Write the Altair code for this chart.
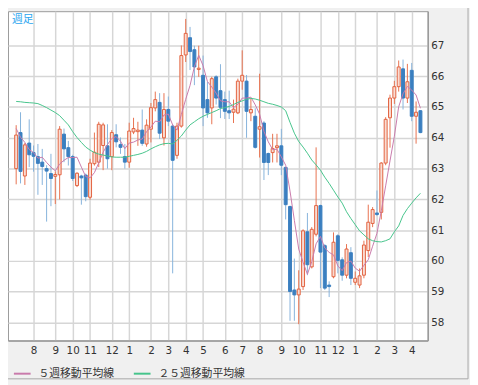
import altair as alt
import pandas as pd

# ---- weekly candles (index 0..93) ----
opens = [63.00, 64.17, 62.76, 63.83, 63.52, 63.39, 63.21, 63.00, 62.84, 62.75,
         62.80, 64.12, 63.68, 63.39, 62.45, 62.76, 62.79, 62.07, 63.16, 63.21,
         63.75, 63.74, 63.39, 64.10, 63.78, 63.39, 63.21, 64.19, 64.20, 64.25,
         63.80, 64.28, 64.97, 65.15, 64.00, 64.92, 64.38, 63.43, 64.38, 66.69,
         67.25, 66.86, 66.22, 66.03, 65.24, 64.97, 65.98, 65.53, 65.24, 64.88,
         64.83, 64.81, 65.84, 65.84, 64.81, 64.70, 64.28, 64.48, 63.49, 63.52,
         63.68, 63.74, 63.04, 61.77, 59.06, 58.90, 59.17, 60.95, 59.81, 60.87,
         61.80, 60.50, 59.22, 59.49, 60.82, 60.04, 59.54, 60.27, 59.31, 59.22,
         59.54, 60.34, 61.22, 61.56, 61.58, 63.18, 64.65, 65.29, 65.66, 66.24,
         65.29, 66.19, 64.70, 64.88]
highs = [64.41, 64.83, 63.83, 64.60, 63.75, 63.80, 63.64, 63.11, 63.48, 62.91,
         64.38, 64.30, 63.90, 63.45, 62.88, 62.80, 62.84, 63.32, 64.17, 64.52,
         64.49, 64.44, 64.25, 64.44, 64.01, 63.80, 64.49, 64.65, 64.52, 64.92,
         64.60, 65.13, 65.50, 65.45, 65.45, 65.34, 64.44, 64.49, 67.00, 67.86,
         67.60, 66.99, 66.99, 66.67, 65.82, 65.98, 66.03, 66.39, 65.50, 65.53,
         65.24, 65.92, 66.84, 66.04, 65.27, 64.96, 66.08, 64.54, 63.52, 64.13,
         64.13, 64.29, 63.06, 61.80, 60.08, 59.70, 61.03, 61.56, 61.10, 63.69,
         61.83, 60.55, 59.34, 60.93, 60.87, 60.12, 60.55, 60.45, 59.66, 59.76,
         60.66, 61.83, 61.75, 62.29, 63.21, 64.67, 65.40, 65.85, 66.51, 66.54,
         66.40, 66.43, 65.18, 64.90]
lows = [62.49, 62.52, 62.47, 63.05, 62.90, 62.15, 62.47, 61.28, 61.78, 61.85,
        62.00, 63.21, 63.10, 62.60, 62.40, 61.83, 61.94, 61.99, 63.10, 63.05,
        62.95, 63.00, 62.95, 63.69, 63.48, 63.00, 63.03, 64.12, 63.74, 63.74,
        63.71, 63.85, 64.86, 63.96, 63.75, 64.38, 59.60, 63.32, 64.33, 66.46,
        66.20, 65.71, 65.98, 64.38, 64.65, 64.44, 65.08, 64.64, 64.61, 64.61,
        64.48, 64.77, 65.56, 64.00, 64.54, 63.65, 63.36, 62.63, 62.79, 63.20,
        63.20, 62.79, 61.35, 58.06, 58.06, 57.95, 59.06, 59.54, 59.76, 60.80,
        59.12, 59.06, 58.83, 59.44, 59.60, 59.36, 59.44, 59.22, 59.22, 59.12,
        59.44, 60.13, 61.10, 61.46, 61.35, 63.11, 63.68, 65.10, 65.50, 64.92,
        65.13, 64.54, 63.81, 64.15]
closes = [64.09, 62.91, 63.77, 63.45, 63.40, 63.17, 63.07, 62.92, 62.68, 62.81,
          64.28, 63.64, 63.39, 62.68, 62.85, 62.70, 62.09, 63.18, 63.53, 64.44,
          64.42, 63.32, 64.17, 63.87, 63.69, 63.21, 64.22, 64.30, 64.25, 63.82,
          64.41, 64.98, 65.24, 64.15, 64.92, 64.54, 63.27, 64.38, 66.67, 67.39,
          66.80, 66.30, 66.26, 64.97, 64.81, 65.92, 65.29, 64.99, 64.86, 64.81,
          64.93, 65.84, 66.03, 64.86, 64.92, 63.69, 64.36, 63.20, 63.20, 63.65,
          63.74, 63.11, 61.83, 59.01, 58.90, 59.09, 60.98, 59.88, 61.03, 61.80,
          60.29, 59.12, 59.17, 60.61, 60.02, 59.54, 60.39, 59.44, 59.44, 59.52,
          60.52, 61.26, 61.67, 61.51, 63.18, 64.60, 65.29, 65.66, 66.30, 65.29,
          65.82, 64.70, 64.83, 64.17]

# ---- moving averages ----
ma5 = [64.30, 64.02, 63.85, 63.62,
       63.52, 63.34, 63.37, 63.20, 63.05, 62.93, 63.15, 63.27, 63.36, 63.36,
       63.37, 63.05, 62.74, 62.70, 62.87, 63.19, 63.53, 63.78, 63.98, 64.04,
       63.89, 63.65, 63.83, 63.86, 63.93, 63.96, 64.20, 64.35, 64.54, 64.52,
       64.74, 64.77, 64.42, 64.25, 64.76, 65.25, 65.70, 66.31, 66.68, 66.34,
       65.83, 65.65, 65.45, 65.20, 65.17, 65.17, 64.98, 65.09, 65.29, 65.29,
       65.32, 65.07, 64.77, 64.21, 63.87, 63.62, 63.63, 63.38, 63.11, 62.27,
       61.32, 60.39, 59.96, 59.57, 59.98, 60.56, 60.80, 60.42, 60.28, 60.20,
       59.84, 59.69, 59.95, 60.00, 59.77, 59.67, 59.86, 60.04, 60.48, 60.90,
       61.63, 62.44, 63.25, 64.05, 65.01, 65.43, 65.67, 65.55, 65.39, 64.96]
ma25 = [65.18, 65.17, 65.15, 65.14, 65.13, 65.11, 65.05, 64.98, 64.90, 64.82,
        64.72, 64.57, 64.42, 64.20, 64.01, 63.85, 63.70, 63.60, 63.52, 63.47,
        63.44, 63.41, 63.38, 63.37, 63.37, 63.37, 63.40, 63.43, 63.46, 63.50,
        63.56, 63.64, 63.71, 63.77, 63.81, 63.82, 63.80, 63.92, 64.06, 64.25,
        64.42, 64.52, 64.62, 64.70, 64.76, 64.82, 64.88, 64.95, 64.98, 65.02,
        65.08, 65.15, 65.20, 65.25, 65.28, 65.26, 65.22, 65.17, 65.12, 65.09,
        65.05, 65.00, 64.88, 64.50, 64.15, 63.88, 63.70, 63.50, 63.28, 63.12,
        62.95, 62.72, 62.52, 62.30, 62.08, 61.88, 61.60, 61.38, 61.18, 60.98,
        60.85, 60.72, 60.66, 60.63, 60.62, 60.66, 60.72, 60.95, 61.14, 61.48,
        61.70, 61.88, 62.05, 62.20]

# ---- axis labels ----
month_tick_index = [4, 9, 13, 17, 22, 26, 31, 35, 39, 43, 48, 52, 56, 61, 65, 70, 74, 78, 83, 87, 91]
month_labels = ["8", "9", "10", "11", "12", "1", "2", "3", "4", "5", "6", "7",
                "8", "9", "10", "11", "12", "1", "2", "3", "4"]
price_ticks = [58, 59, 60, 61, 62, 63, 64, 65, 66, 67]
series_names = ["５週移動平均線", "２５週移動平均線"]
series_colors = ["#c97aab", "#45c48b"]
chart_label = "週足"

n = len(closes)
assert len(opens) == n and len(highs) == n and len(lows) == n and len(ma5) == n and len(ma25) == n

candles = pd.DataFrame({"i": list(range(n)), "o": opens, "h": highs, "l": lows, "c": closes})
lines = pd.DataFrame({
    "i": list(range(n)) * 2,
    "v": ma5 + ma25,
    "s": [series_names[0]] * n + [series_names[1]] * n,
})

label_arr = [""] * n
for k, lab in zip(month_tick_index, month_labels):
    label_arr[k] = lab
label_expr = "[" + ",".join("'" + s + "'" for s in label_arr) + "][datum.value]"

x_scale = alt.Scale(domain=[-0.75, 93.55], nice=False, zero=False)
y_scale = alt.Scale(domain=[57.42, 68.11], nice=False, zero=False)
grid_col = "#d6d6d6"
x_axis = alt.Axis(values=month_tick_index, labelExpr=label_expr, title=None, ticks=False,
                  labelPadding=5, grid=True, gridColor=grid_col, gridWidth=1.5,
                  domainColor="#9a9a9a", domainWidth=1.5, labelFont="DejaVu Sans",
                  labelFontSize=10.5, labelColor="#333333", labelAngle=0,
                  labelOverlap=False, labelFlush=False)
y_axis = alt.Axis(values=price_ticks, orient="right", title=None, ticks=False,
                  labelPadding=3, grid=True, gridColor=grid_col, gridWidth=1.5,
                  domainColor="#9a9a9a", domainWidth=1.5, labelFont="DejaVu Sans",
                  labelFontSize=10.5, labelColor="#333333", format="d",
                  labelOverlap=False, labelFlush=False)

up = "datum.c >= datum.o"
base = alt.Chart(candles)

wicks = base.mark_rule(strokeWidth=1).encode(
    x=alt.X("i:Q", scale=x_scale, axis=x_axis),
    y=alt.Y("l:Q", scale=y_scale, axis=y_axis),
    y2="h:Q",
    color=alt.condition(up, alt.value("#e8714f"), alt.value("#86b2db")),
)

bodies = base.mark_bar(size=3, strokeWidth=1).encode(
    x=alt.X("i:Q", scale=x_scale, axis=x_axis),
    y=alt.Y("o:Q", scale=y_scale, axis=y_axis),
    y2="c:Q",
    fill=alt.condition(up, alt.value("#f9dcd2"), alt.value("#3b7fc0")),
    stroke=alt.condition(up, alt.value("#e2623f"), alt.value("#3b7fc0")),
)

ma_lines = alt.Chart(lines).mark_line(strokeWidth=1).encode(
    x=alt.X("i:Q", scale=x_scale, axis=x_axis),
    y=alt.Y("v:Q", scale=y_scale, axis=y_axis),
    color=alt.Color("s:N", scale=alt.Scale(domain=series_names, range=series_colors),
                    sort=series_names,
                    legend=alt.Legend(title=None, orient="none", legendX=5, legendY=359,
                                      direction="horizontal", symbolType="stroke",
                                      symbolStrokeWidth=2, symbolSize=289,
                                      labelFont="Noto Sans CJK JP", labelFontSize=11,
                                      labelColor="#333333", labelOffset=7,
                                      columnPadding=16, padding=0)),
    detail="s:N",
)

label = alt.Chart(pd.DataFrame({"t": [chart_label]})).mark_text(
    align="left", baseline="top", font="Noto Sans CJK JP", fontSize=11, color="#2aa6f0"
).encode(text="t:N", x=alt.value(4), y=alt.value(3))

frame_r = alt.Chart(pd.DataFrame({"t": [0]})).mark_rule(color="#a6a6a6", strokeWidth=1).encode(
    x=alt.value(468), y=alt.value(-8), y2=alt.value(374))
frame_b = alt.Chart(pd.DataFrame({"t": [0]})).mark_rule(color="#a6a6a6", strokeWidth=1).encode(
    x=alt.value(-8), x2=alt.value(468), y=alt.value(374))

chart = alt.layer(wicks, bodies, ma_lines, label, frame_r, frame_b).properties(
    width=427, height=335,
    padding={"left": 0, "top": 0, "right": 43, "bottom": 42},
    autosize=alt.AutoSizeParams(type="none"),
    background="#f0f0f0",
).configure_view(
    stroke="#9a9a9a", strokeWidth=1, fill="white"
).configure_axis(labelOverlap=False, labelFlush=False)

chart.save("out.html", embed_options={"renderer": "svg", "actions": False})
